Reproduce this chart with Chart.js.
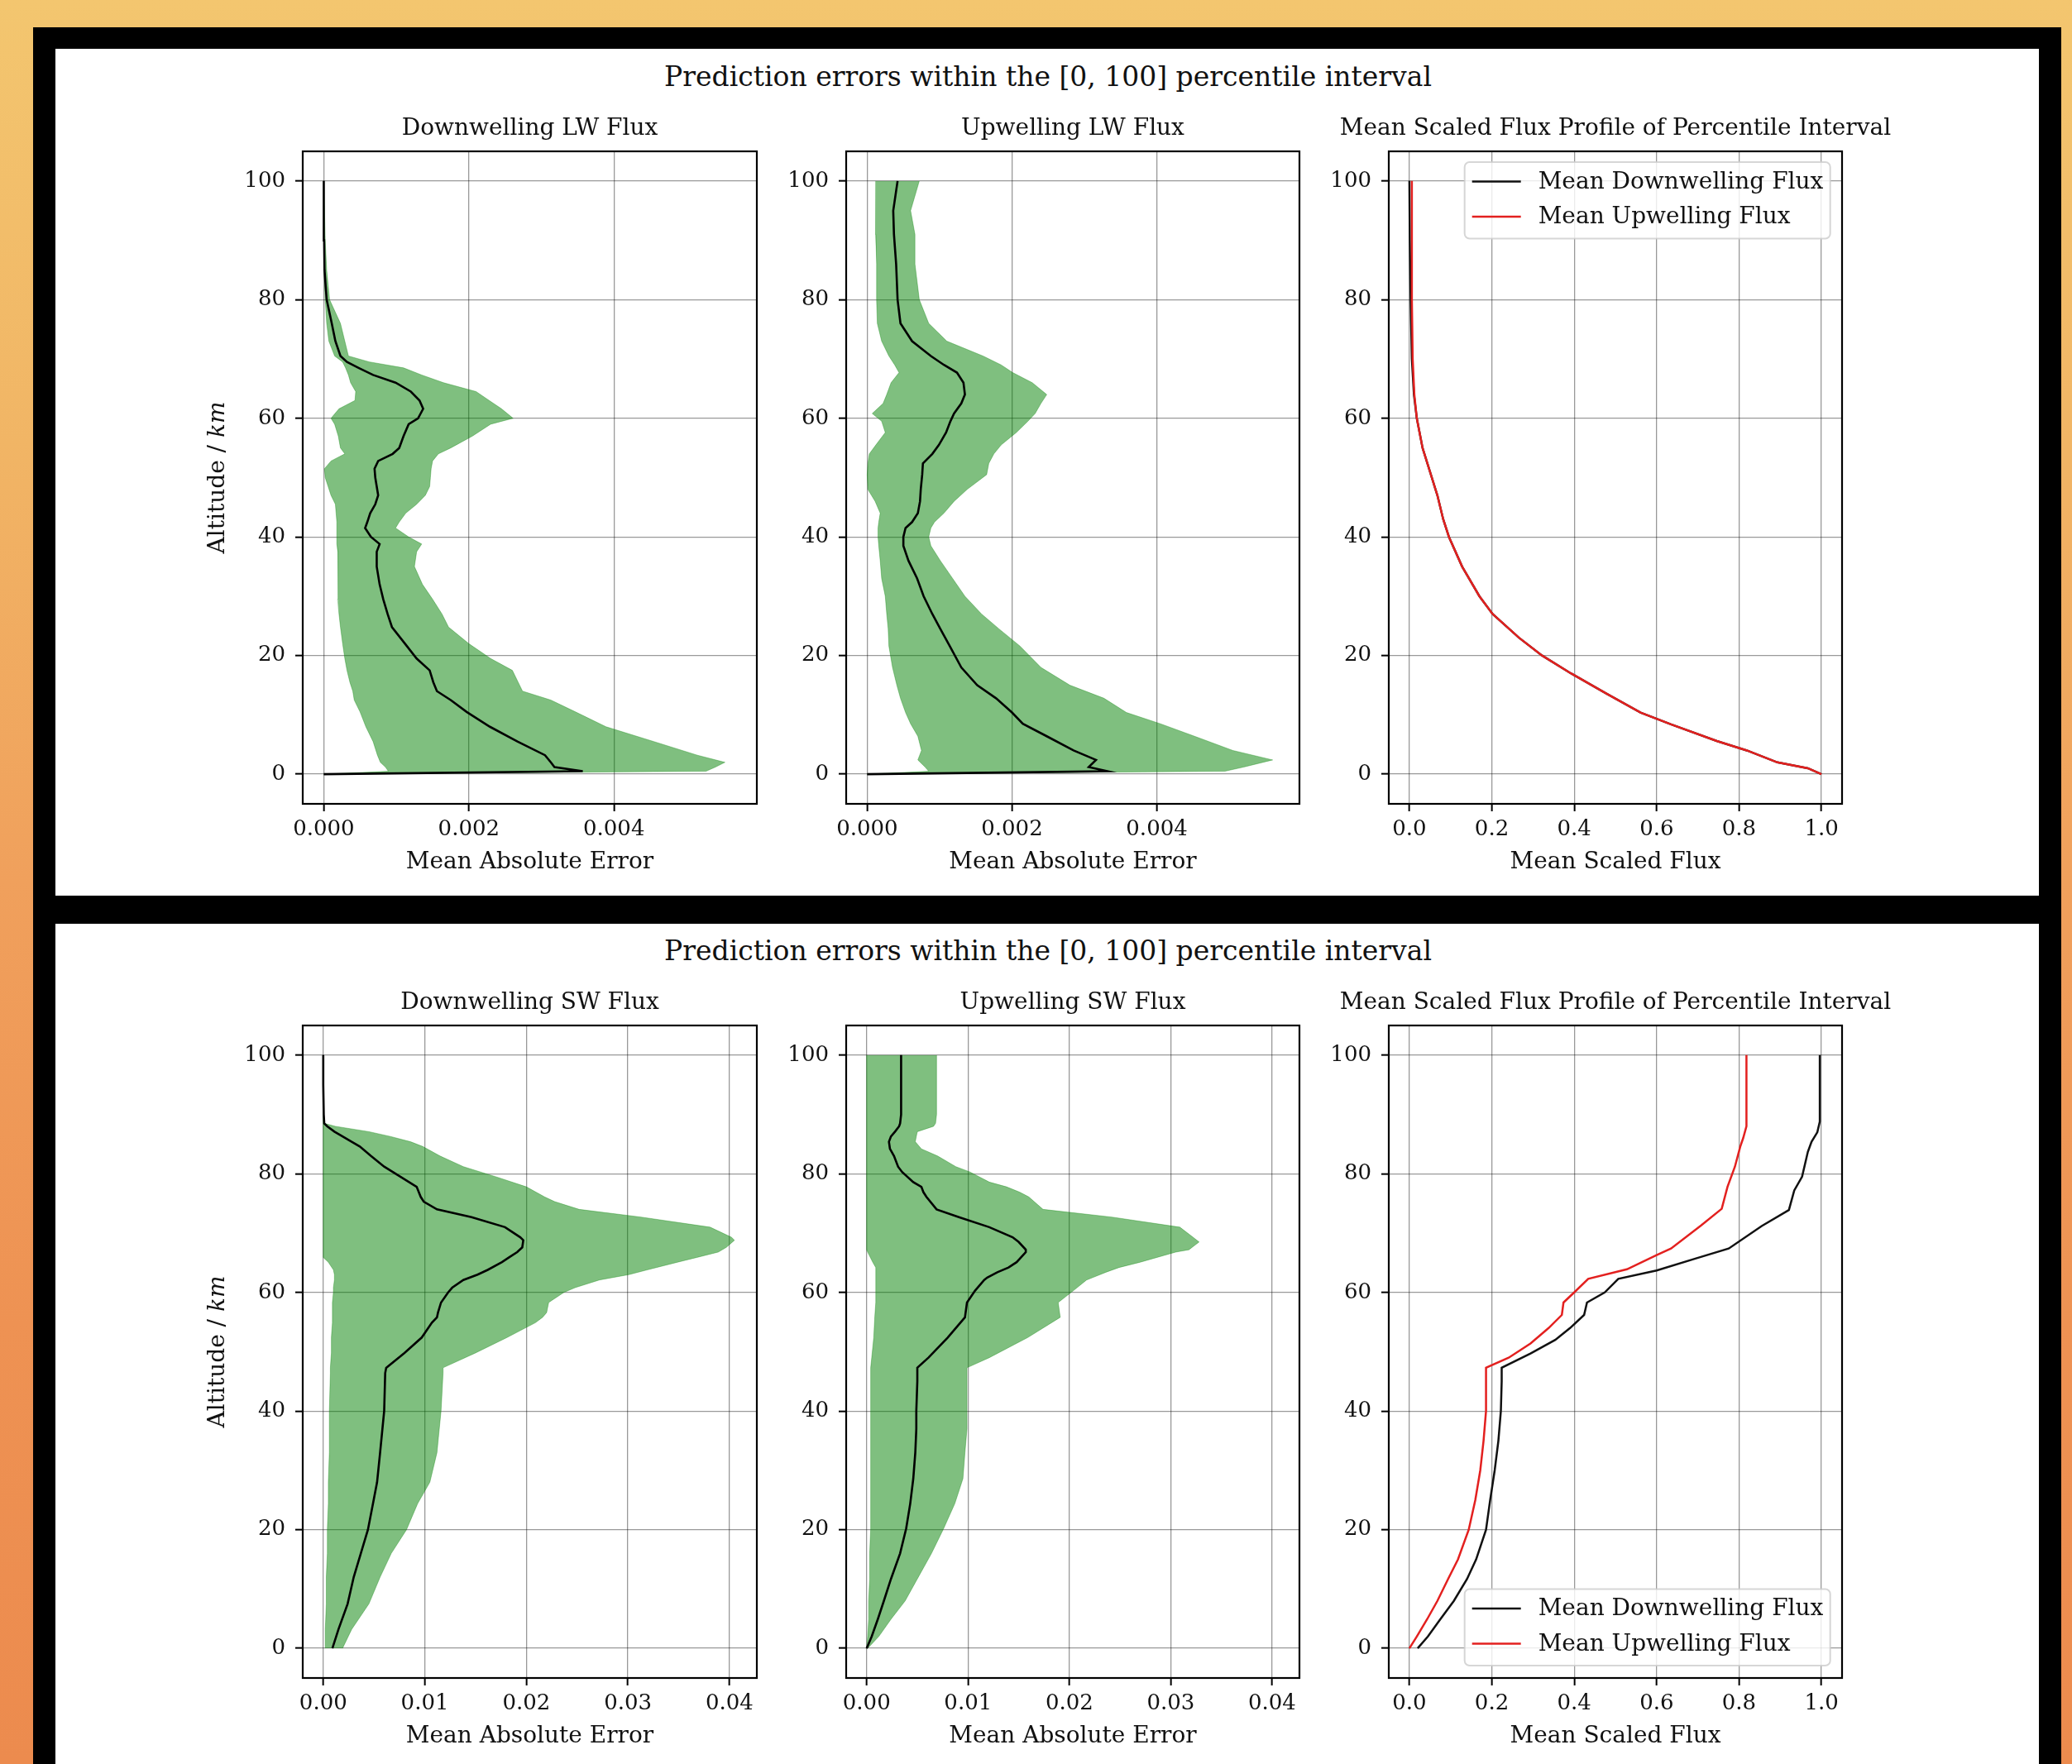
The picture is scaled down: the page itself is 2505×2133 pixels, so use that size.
<!DOCTYPE html>
<html><head><meta charset="utf-8">
<script src="https://cdn.jsdelivr.net/npm/chart.js@4.4.0/dist/chart.umd.min.js"></script>
<style>
html,body{margin:0;padding:0}
body{position:relative;width:2505px;height:2133px;overflow:hidden;
 background:linear-gradient(to bottom,#F3C66F 0%,#F1B565 25%,#F0A05C 50%,#EE9253 75%,#EC8B4E 100%);}
#frame{position:absolute;left:40px;top:33px;width:2452px;height:2100px;background:#000}
.panel{position:absolute;left:67px;width:2398px;background:#fff}
.sup{position:absolute;left:0;width:2534px;text-align:center;font-family:'DejaVu Serif',serif;font-size:33px;line-height:40px;color:#111;white-space:nowrap}
canvas{position:absolute}
</style></head>
<body>
<div id="frame"></div>
<div class="panel" style="top:59px;height:1024px"></div>
<div class="panel" style="top:1117px;height:1016px"></div>
<div class="sup" id="sup1" style="top:73px"></div>
<div class="sup" id="sup2" style="top:1130px"></div>
<script>
// ---------------- DATA ----------------
const supTitle = 'Prediction errors within the [0, 100] percentile interval';
const altTicks = [0, 20, 40, 60, 80, 100];
const lwErrTicks = [0, 0.002, 0.004];
const swErrTicks = [0, 0.01, 0.02, 0.03, 0.04];
const fluxTicks = [0, 0.2, 0.4, 0.6, 0.8, 1.0];
const panelTitles = ['Downwelling LW Flux', 'Upwelling LW Flux', 'Mean Scaled Flux Profile of Percentile Interval',
                     'Downwelling SW Flux', 'Upwelling SW Flux', 'Mean Scaled Flux Profile of Percentile Interval'];
const errLabel = 'Mean Absolute Error';
const fluxLabel = 'Mean Scaled Flux';
const altLabelA = 'Altitude / ';
const altLabelB = 'km';
const legendLabels = ['Mean Downwelling Flux', 'Mean Upwelling Flux'];

// Downwelling LW
const lwDownAlt  = [100, 90, 85, 80, 76, 73, 70.5, 69.5, 68.5, 67.3, 66, 64.5, 63, 61.6, 60, 59, 57, 55, 54, 52.8, 51.5, 50, 48.5, 47, 45.5, 44, 42.5, 41.5, 40, 38.8, 37.5, 35, 32, 29.5, 27, 24.8, 22, 19.5, 17.5, 15.5, 14, 12.5, 10.5, 8, 5.5, 3.2, 2, 1.2, 0.5, 0];
const lwDownMean = [0, 0.000005, 0.00001, 0.00004, 0.00011, 0.00016, 0.00023, 0.00032, 0.00048, 0.00068, 0.00099, 0.0012, 0.00132, 0.00137, 0.0013, 0.00117, 0.0011, 0.00104, 0.00095, 0.00075, 0.0007, 0.00071, 0.00073, 0.00075, 0.00071, 0.00064, 0.0006, 0.00057, 0.00065, 0.00077, 0.00073, 0.00073, 0.00077, 0.00082, 0.00088, 0.00094, 0.00112, 0.00128, 0.00146, 0.00151, 0.00156, 0.00175, 0.00197, 0.00229, 0.00267, 0.00305, 0.00313, 0.00318, 0.00357, 0];
const lwDownHigh = [0, 0.00002, 0.00004, 0.00008, 0.00023, 0.00029, 0.00034, 0.00063, 0.0011, 0.00135, 0.00165, 0.0021, 0.00228, 0.00245, 0.00261, 0.0023, 0.00205, 0.00175, 0.00158, 0.0015, 0.00148, 0.00147, 0.00146, 0.0014, 0.00128, 0.00113, 0.00104, 0.00099, 0.00117, 0.00135, 0.00128, 0.00125, 0.00136, 0.0015, 0.00163, 0.00172, 0.002, 0.0023, 0.0026, 0.00268, 0.00274, 0.00313, 0.00347, 0.00389, 0.00455, 0.00515, 0.00553, 0.0054, 0.00527, 0];
const lwDownLow  = [0, 0.000002, 0.000005, 0.00002, 0.00004, 0.00007, 0.00015, 0.00026, 0.0003, 0.00034, 0.00037, 0.00044, 0.00043, 0.00021, 0.0001, 0.00015, 0.0002, 0.00023, 0.00029, 0.0001, 0.00001, 0.00002, 0.00006, 0.0001, 0.00016, 0.00017, 0.00018, 0.00018, 0.00018, 0.00018, 0.00019, 0.0002, 0.0002, 0.00019, 0.00021, 0.00023, 0.00026, 0.00029, 0.00032, 0.00036, 0.0004, 0.00042, 0.0005, 0.00058, 0.00068, 0.00074, 0.00078, 0.00085, 0.00089, 0];

// Upwelling LW
const lwUpAlt  = [100, 95, 91, 86, 80, 76, 73, 70.5, 69, 67.7, 66, 64, 62.5, 60.8, 59.5, 57.6, 55.5, 54, 52.4, 50.5, 48, 46, 44, 42.5, 41.5, 40, 38.5, 36, 33, 30, 27, 24.5, 21.6, 18, 15, 12.8, 10.4, 8.5, 6.4, 4, 2.4, 1.2, 0.5, 0];
const lwUpMean = [0.00042, 0.00036, 0.00037, 0.0004, 0.00042, 0.00046, 0.00062, 0.00088, 0.00106, 0.00124, 0.00133, 0.00135, 0.0013, 0.0012, 0.00115, 0.00109, 0.00099, 0.0009, 0.00077, 0.00076, 0.00074, 0.00073, 0.0007, 0.00062, 0.00053, 0.0005, 0.0005, 0.00057, 0.00069, 0.00078, 0.0009, 0.00101, 0.00114, 0.0013, 0.00152, 0.00178, 0.002, 0.00215, 0.00248, 0.00285, 0.00316, 0.00306, 0.00332, 0];
const lwUpHigh = [0.00072, 0.0006, 0.00066, 0.00066, 0.00072, 0.00085, 0.0011, 0.0016, 0.00185, 0.00201, 0.00228, 0.00248, 0.0024, 0.00232, 0.00222, 0.00206, 0.00185, 0.00175, 0.00168, 0.00165, 0.00138, 0.0012, 0.00106, 0.00093, 0.00088, 0.00085, 0.00088, 0.00101, 0.00118, 0.00135, 0.00158, 0.00182, 0.00211, 0.0024, 0.0028, 0.00327, 0.00358, 0.00405, 0.00452, 0.00505, 0.0056, 0.0052, 0.00494, 0];
const lwUpLow  = [0.00012, 0.00011, 0.00012, 0.00013, 0.00013, 0.00014, 0.0002, 0.0003, 0.00038, 0.00044, 0.00033, 0.00027, 0.00022, 0.00007, 0.0002, 0.00025, 0.00012, 0.00003, 0.00001, 0, 0.00001, 0.00011, 0.00018, 0.00016, 0.00015, 0.00015, 0.00016, 0.00018, 0.0002, 0.00025, 0.00027, 0.00029, 0.0003, 0.00035, 0.00041, 0.00046, 0.00053, 0.0006, 0.0007, 0.00075, 0.0007, 0.0008, 0.00085, 0];

// Mean scaled LW flux
const lwFluxAlt  = [100, 90, 80, 70, 64, 60, 55, 51, 47, 43, 40, 35, 30, 27, 23, 20, 17, 13.6, 10.4, 8.4, 5.6, 4, 2, 1, 0];
const lwFluxDown = [0.0, 0.001, 0.003, 0.006, 0.011, 0.018, 0.032, 0.05, 0.068, 0.082, 0.096, 0.128, 0.17, 0.202, 0.266, 0.322, 0.392, 0.478, 0.561, 0.635, 0.746, 0.819, 0.893, 0.967, 1.0];
const lwFluxUp   = [0.006, 0.006, 0.006, 0.008, 0.012, 0.018, 0.032, 0.05, 0.068, 0.082, 0.096, 0.128, 0.17, 0.202, 0.266, 0.322, 0.392, 0.478, 0.561, 0.635, 0.746, 0.819, 0.893, 0.967, 1.0];

// Downwelling SW
const swDownAlt  = [100, 95, 90, 88.5, 88, 87.1, 86.3, 85.4, 84.6, 83, 81.2, 79.5, 77.8, 76.1, 75.3, 74, 72.7, 71, 69.3, 68.8, 67.6, 66.8, 65.9, 65.1, 63.8, 63, 62.1, 60.8, 60, 58.3, 56.6, 55.8, 54.9, 52.4, 49.8, 47.3, 46.4, 40, 33, 28, 24.4, 20, 16, 12, 7.5, 3.2, 0];
const swDownMean = [0, 0, 0.00005, 0.0001, 0.0004, 0.0011, 0.0019, 0.0028, 0.0036, 0.0047, 0.006, 0.0076, 0.0092, 0.0096, 0.0099, 0.0112, 0.0146, 0.0179, 0.0194, 0.0197, 0.0196, 0.0191, 0.0183, 0.0176, 0.0162, 0.0152, 0.0138, 0.0127, 0.0123, 0.0116, 0.0113, 0.0112, 0.0107, 0.0097, 0.008, 0.0062, 0.0061, 0.006, 0.0056, 0.0053, 0.0049, 0.0044, 0.0037, 0.003, 0.0024, 0.0015, 0.0009];
const swDownHigh = [0, 0, 0, 0.0001, 0.0012, 0.0045, 0.0066, 0.0086, 0.0098, 0.0115, 0.0138, 0.017, 0.02, 0.0218, 0.0228, 0.0252, 0.0313, 0.0381, 0.0402, 0.0405, 0.0397, 0.0389, 0.0368, 0.0349, 0.0319, 0.0301, 0.0272, 0.0248, 0.0237, 0.0222, 0.022, 0.0216, 0.0209, 0.0181, 0.015, 0.0118, 0.0118, 0.0116, 0.0112, 0.0105, 0.0093, 0.0082, 0.0067, 0.0056, 0.0045, 0.0028, 0.0019];
const swDownLow  = [0, 0, 0, 0, 0, 0, 0, 0, 0, 0, 0, 0, 0, 0, 0, 0, 0, 0, 0, 0, 0, 0, 0, 0.0005, 0.001, 0.0011, 0.0011, 0.001, 0.001, 0.0009, 0.0009, 0.0009, 0.0009, 0.0008, 0.0008, 0.0007, 0.0007, 0.0006, 0.0006, 0.0005, 0.0005, 0.0004, 0.0004, 0.0003, 0.0003, 0.0002, 0.0002];

// Upwelling SW
const swUpAlt  = [100, 95, 90, 88.5, 88, 87.1, 86.3, 85.4, 84.2, 83, 81.2, 80.3, 78.6, 77.8, 76.9, 76.1, 74, 72.7, 71, 69.3, 68.5, 67.2, 66.8, 65.1, 64.2, 63.4, 62.5, 62.1, 60.3, 58.3, 55.8, 52.4, 49, 47.3, 45, 40, 37, 33, 28.6, 24.4, 20.2, 16, 11.7, 8, 4.9, 2, 0];
const swUpMean = [0.0034, 0.0034, 0.0034, 0.0033, 0.0032, 0.0028, 0.0024, 0.0022, 0.0023, 0.0027, 0.0031, 0.0035, 0.0046, 0.0054, 0.0056, 0.0059, 0.0069, 0.0091, 0.0121, 0.0144, 0.015, 0.0157, 0.0157, 0.0148, 0.014, 0.0129, 0.0119, 0.0116, 0.0107, 0.0099, 0.0097, 0.008, 0.0061, 0.005, 0.005, 0.0049, 0.0049, 0.0048, 0.0046, 0.0043, 0.0039, 0.0033, 0.0024, 0.0017, 0.0011, 0.0005, 0];
const swUpHigh = [0.0069, 0.0069, 0.0069, 0.0068, 0.0066, 0.005, 0.0049, 0.0048, 0.0054, 0.007, 0.0088, 0.0102, 0.0121, 0.0138, 0.0151, 0.016, 0.0174, 0.0242, 0.0309, 0.0322, 0.0328, 0.0318, 0.0305, 0.027, 0.0249, 0.0236, 0.0223, 0.0217, 0.0204, 0.0189, 0.0191, 0.0159, 0.0121, 0.0099, 0.0099, 0.0099, 0.0099, 0.0097, 0.0095, 0.0087, 0.0076, 0.0064, 0.005, 0.0038, 0.0024, 0.0012, 0.0001];
const swUpLow  = [0, 0, 0, 0, 0, 0, 0, 0, 0, 0, 0, 0, 0, 0, 0, 0, 0, 0, 0, 0, 0, 0, 0.0001, 0.0006, 0.0009, 0.0009, 0.0009, 0.0009, 0.0009, 0.0009, 0.0008, 0.0007, 0.0005, 0.0004, 0.0004, 0.0004, 0.0004, 0.0004, 0.0004, 0.0004, 0.0004, 0.0003, 0.0003, 0.0002, 0.0002, 0.0001, 0];

// Mean scaled SW flux
const swFluxDownAlt = [100, 88.8, 87, 85.4, 83.7, 79.5, 77.2, 73.9, 71.2, 67.4, 65.7, 63.7, 62.3, 60, 58.3, 56.2, 54, 52, 49.7, 47.3, 45, 40, 35, 30, 25, 20, 15, 11.7, 8, 4.9, 2, 0];
const swFluxDown    = [0.996, 0.996, 0.99, 0.976, 0.967, 0.953, 0.934, 0.921, 0.855, 0.775, 0.694, 0.6, 0.507, 0.474, 0.431, 0.424, 0.39, 0.354, 0.294, 0.224, 0.224, 0.222, 0.216, 0.207, 0.196, 0.186, 0.162, 0.14, 0.108, 0.075, 0.045, 0.02];
const swFluxUpAlt   = [100, 88, 86, 84.6, 81.2, 77.8, 74.1, 71.3, 67.4, 66.3, 63.9, 62.3, 60, 58.3, 56.2, 54, 51.4, 49, 47.3, 45, 40, 35, 30, 25, 20, 15, 11.7, 8, 4.9, 2, 0];
const swFluxUp      = [0.818, 0.818, 0.81, 0.803, 0.79, 0.772, 0.758, 0.708, 0.635, 0.6, 0.528, 0.434, 0.4, 0.374, 0.37, 0.338, 0.294, 0.241, 0.186, 0.186, 0.186, 0.18, 0.172, 0.16, 0.144, 0.118, 0.094, 0.068, 0.043, 0.018, 0];

// ---------------- RENDERING ----------------
document.getElementById('sup1').textContent = supTitle;
document.getElementById('sup2').textContent = supTitle;

const F = "'DejaVu Serif', serif";
Chart.defaults.font.family = F;
Chart.defaults.color = '#111';
const GRID = 'rgba(0,0,0,0.4)';
const FILL = 'rgba(0,128,0,0.5)';
const EDGE = 'rgba(0,128,0,0.35)';
const RED = '#e3201f';

const COLS = [[366, 915], [1023, 1571], [1679, 2227]];
const ROWS = [[183, 972], [1240, 2029]];
const YW = 130, TH = 44, XH = 89, PR = 70;

function place(col, row) {
  const [l, r] = COLS[col], [t, b] = ROWS[row];
  const c = document.createElement('canvas');
  c.width = YW + (r - l) + PR;
  c.height = TH + (b - t) + XH;
  c.style.left = (l - YW) + 'px';
  c.style.top = (t - TH) + 'px';
  c.style.width = c.width + 'px';
  c.style.height = c.height + 'px';
  document.body.appendChild(c);
  return c;
}

function pts(alt, vals) {
  return alt.map((a, i) => ({x: vals[i], y: a})).reverse();
}

const framePlugin = {
  id: 'frame',
  afterDatasetsDraw(chart) {
    const {ctx, chartArea: a} = chart;
    ctx.save();
    ctx.strokeStyle = '#000';
    ctx.lineWidth = 2.2;
    ctx.strokeRect(a.left, a.top, a.right - a.left, a.bottom - a.top);
    ctx.restore();
  }
};

const titlePlugin = {
  id: 'ptitle',
  afterDraw(chart, args, opts) {
    if (!opts || !opts.text) return;
    const {ctx, chartArea: a} = chart;
    ctx.save();
    ctx.font = "28px 'DejaVu Serif'";
    ctx.fillStyle = '#111';
    ctx.textAlign = 'center';
    ctx.textBaseline = 'middle';
    ctx.fillText(opts.text, (a.left + a.right) / 2, a.top - 27);
    ctx.restore();
  }
};

const yLabelPlugin = {
  id: 'ylab',
  afterDraw(chart, args, opts) {
    if (!opts || !opts.show) return;
    const {ctx, chartArea: a} = chart;
    ctx.save();
    ctx.translate(a.left - 102, (a.top + a.bottom) / 2);
    ctx.rotate(-Math.PI / 2);
    const f1 = "28px 'DejaVu Serif'", f2 = "italic 28px 'DejaVu Serif'";
    ctx.font = f1; const w1 = ctx.measureText(altLabelA).width;
    ctx.font = f2; const w2 = ctx.measureText(altLabelB).width;
    const sx = -(w1 + w2) / 2;
    ctx.textBaseline = 'middle';
    ctx.fillStyle = '#111';
    ctx.font = f1; ctx.fillText(altLabelA, sx, 0);
    ctx.font = f2; ctx.fillText(altLabelB, sx + w1, 0);
    ctx.restore();
  }
};

const boxLegendPlugin = {
  id: 'boxlegend',
  afterDraw(chart, args, opts) {
    if (!opts || !opts.show) return;
    const {ctx, chartArea: a} = chart;
    const w = 442, h = 92.5, r = 6;
    const x = a.right - 14.3 - w;
    const y = opts.where === 'upper' ? a.top + 13 : a.bottom - 15 - h;
    ctx.save();
    ctx.beginPath();
    ctx.moveTo(x + r, y); ctx.lineTo(x + w - r, y); ctx.arcTo(x + w, y, x + w, y + r, r);
    ctx.lineTo(x + w, y + h - r); ctx.arcTo(x + w, y + h, x + w - r, y + h, r);
    ctx.lineTo(x + r, y + h); ctx.arcTo(x, y + h, x, y + h - r, r);
    ctx.lineTo(x, y + r); ctx.arcTo(x, y, x + r, y, r);
    ctx.closePath();
    ctx.fillStyle = 'rgba(255,255,255,0.8)';
    ctx.fill();
    ctx.strokeStyle = 'rgba(204,204,204,0.8)';
    ctx.lineWidth = 2;
    ctx.stroke();
    opts.order.forEach((di, k) => {
      const ds = chart.data.datasets[di];
      const cy = y + 23.5 + k * 42.5;
      ctx.beginPath();
      ctx.moveTo(x + 9, cy); ctx.lineTo(x + 68, cy);
      ctx.strokeStyle = ds.borderColor; ctx.lineWidth = ds.borderWidth;
      ctx.stroke();
      ctx.fillStyle = '#111';
      ctx.font = "28px 'DejaVu Serif'";
      ctx.textBaseline = 'middle';
      ctx.fillText(ds.label, x + 89, cy + 1);
    });
    ctx.restore();
  }
};

function scales(xmin, xmax, xticks, dec, xlabel) {
  return {
    x: {
      type: 'linear', position: 'bottom', min: xmin, max: xmax,
      afterBuildTicks: s => { s.ticks = xticks.map(v => ({value: v})); },
      afterFit: s => { s.height = XH; },
      ticks: {callback: v => Number(v).toFixed(dec), font: {size: 26}, color: '#111', padding: 7, maxRotation: 0, autoSkip: false},
      grid: {color: GRID, lineWidth: 1.3, tickLength: 9, tickColor: '#000', tickWidth: 2},
      border: {display: false},
      title: {display: true, text: xlabel, font: {size: 28}, color: '#111', padding: {top: 0, bottom: 1}}
    },
    y: {
      type: 'linear', position: 'left', min: -5, max: 105,
      afterBuildTicks: s => { s.ticks = altTicks.map(v => ({value: v})); },
      afterFit: s => { s.width = YW; },
      ticks: {callback: v => String(v), font: {size: 26}, color: '#111', padding: 12, autoSkip: false},
      grid: {color: GRID, lineWidth: 1.3, tickLength: 9, tickColor: '#000', tickWidth: 2},
      border: {display: false}
    }
  };
}

function baseOpts(title, sc, extraPlugins) {
  return {
    responsive: false, animation: false, devicePixelRatio: 1,
    indexAxis: 'y',
    layout: {padding: {left: 0, right: PR, top: TH, bottom: 0}},
    elements: {point: {radius: 0}, line: {tension: 0}},
    scales: sc,
    plugins: Object.assign({
      legend: {display: false},
      tooltip: {enabled: false},
      title: {display: false},
      ptitle: {text: title}
    }, extraPlugins)
  };
}

const PLUGINS = [framePlugin, titlePlugin, yLabelPlugin, boxLegendPlugin];

function errChart(col, row, title, alt, low, mean, high, xmin, xmax, xticks, dec, showY) {
  const c = place(col, row);
  new Chart(c, {
    type: 'line',
    data: {datasets: [
      {label: 'mean', data: pts(alt, mean), borderColor: '#000', borderWidth: 2.6, fill: false, pointRadius: 0},
      {label: 'low', data: pts(alt, low), borderColor: EDGE, borderWidth: 1, fill: false, pointRadius: 0},
      {label: 'high', data: pts(alt, high), borderColor: EDGE, borderWidth: 1, backgroundColor: FILL, fill: '-1', pointRadius: 0}
    ]},
    options: baseOpts(title, scales(xmin, xmax, xticks, dec, errLabel), {ylab: {show: showY}, boxlegend: {show: false}}),
    plugins: PLUGINS
  });
}

function fluxChart(col, row, title, altD, down, altU, up, where) {
  const c = place(col, row);
  new Chart(c, {
    type: 'line',
    data: {datasets: [
      {label: legendLabels[0], data: pts(altD, down), borderColor: '#111', borderWidth: 2.5, fill: false, pointRadius: 0, order: 1},
      {label: legendLabels[1], data: pts(altU, up), borderColor: RED, borderWidth: 2.5, fill: false, pointRadius: 0, order: 0}
    ]},
    options: baseOpts(title, scales(-0.05, 1.05, fluxTicks, 1, fluxLabel), {ylab: {show: false}, boxlegend: {show: true, where: where, order: [0, 1]}}),
    plugins: PLUGINS
  });
}

errChart(0, 0, panelTitles[0], lwDownAlt, lwDownLow, lwDownMean, lwDownHigh, -0.00029, 0.00597, lwErrTicks, 3, true);
errChart(1, 0, panelTitles[1], lwUpAlt, lwUpLow, lwUpMean, lwUpHigh, -0.00029, 0.00597, lwErrTicks, 3, false);
fluxChart(2, 0, panelTitles[2], lwFluxAlt, lwFluxDown, lwFluxAlt, lwFluxUp, 'upper');
errChart(0, 1, panelTitles[3], swDownAlt, swDownLow, swDownMean, swDownHigh, -0.00202, 0.0427, swErrTicks, 2, true);
errChart(1, 1, panelTitles[4], swUpAlt, swUpLow, swUpMean, swUpHigh, -0.00202, 0.0427, swErrTicks, 2, false);
fluxChart(2, 1, panelTitles[5], swFluxDownAlt, swFluxDown, swFluxUpAlt, swFluxUp, 'lower');
</script>
</body></html>
